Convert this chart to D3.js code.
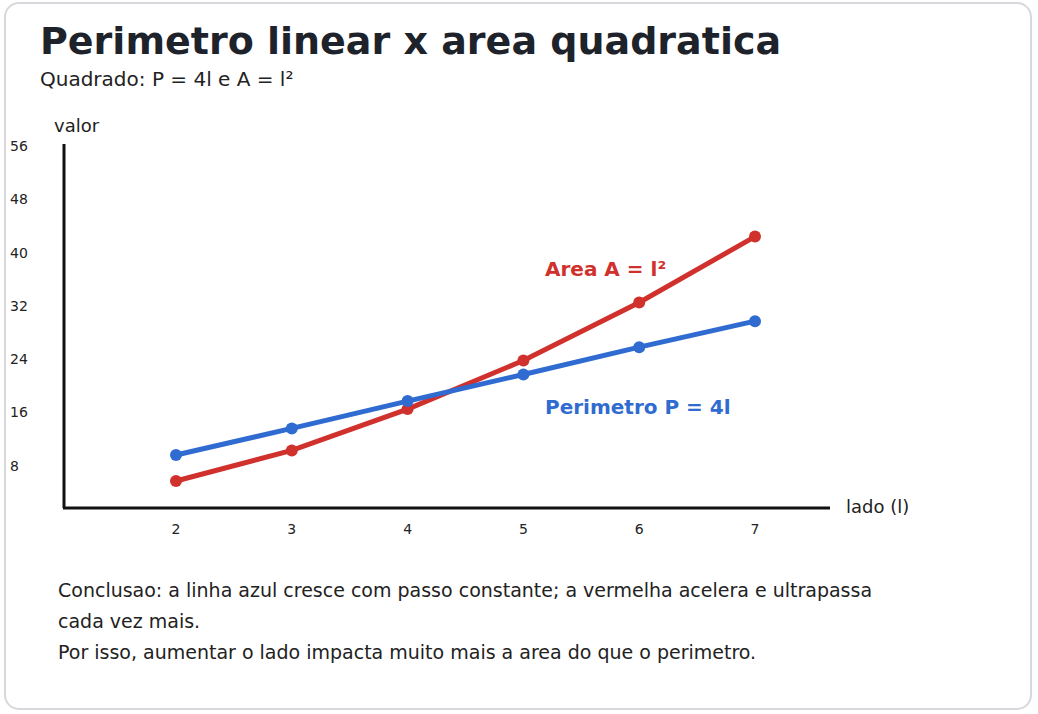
<!DOCTYPE html>
<html><head><meta charset="utf-8">
<script src="https://cdn.jsdelivr.net/npm/d3@7"></script>
<style>body{margin:0;background:#fff;font-family:"DejaVu Sans",sans-serif}</style>
</head><body>
<script>
var lados = [2, 3, 4, 5, 6, 7];
var perimetro = [9.6, 13.6, 17.7, 21.7, 25.8, 29.7];
var area = [5.7, 10.3, 16.5, 23.8, 32.5, 42.4];
var yTicks = [8, 16, 24, 32, 40, 48, 56];

var svg = d3.select("body").append("svg").attr("width", 1038).attr("height", 714);
svg.append("rect").attr("x", 5).attr("y", 3).attr("width", 1026).attr("height", 706)
	.attr("rx", 14).style("fill", "#fff").style("stroke", "#d8d8dc").style("stroke-width", 2);

svg.append("text").attr("x", 40).attr("y", 54).style("font-size", "38px").style("font-weight", "bold")
	.style("fill", "#1e232b").text("Perimetro linear x area quadratica");
svg.append("text").attr("x", 40).attr("y", 86).style("font-size", "20px").style("fill", "#222")
	.text("Quadrado: P = 4l e A = l²");

var x = d3.scaleLinear().domain([2, 7]).range([176, 755]);
var y = d3.scaleLinear().domain([0, 56]).range([519, 146]);

svg.append("line").attr("x1", 64).attr("x2", 64).attr("y1", 144).attr("y2", 508)
	.style("stroke", "#111").style("stroke-width", 3);
svg.append("line").attr("x1", 63).attr("x2", 830).attr("y1", 508).attr("y2", 508)
	.style("stroke", "#111").style("stroke-width", 3);
svg.append("text").attr("x", 54).attr("y", 132).style("font-size", "18px").style("fill", "#222").text("valor");
svg.append("text").attr("x", 846).attr("y", 513).style("font-size", "18px").style("fill", "#222").text("lado (l)");

svg.selectAll(".yt").data(yTicks).enter().append("text")
	.attr("x", 10).attr("y", function (d) { return y(d) + 5; })
	.style("font-size", "14px").style("fill", "#222").text(function (d) { return d; });
svg.selectAll(".xt").data(lados).enter().append("text")
	.attr("x", function (d) { return x(d); }).attr("y", 534).attr("text-anchor", "middle")
	.style("font-size", "14px").style("fill", "#222").text(function (d) { return d; });

function serie(vals, color) {
	var pts = lados.map(function (l, i) { return [l, vals[i]]; });
	svg.append("path").datum(pts)
		.attr("d", d3.line().x(function (d) { return x(d[0]); }).y(function (d) { return y(d[1]); }))
		.style("fill", "none").style("stroke", color).style("stroke-width", 5);
	svg.selectAll(null).data(pts).enter().append("circle")
		.attr("cx", function (d) { return x(d[0]); }).attr("cy", function (d) { return y(d[1]); })
		.attr("r", 6).style("fill", color);
}
serie(area, "#d0312d");
serie(perimetro, "#2f6bd0");

svg.append("text").attr("x", 545).attr("y", 276).style("font-size", "20px").style("font-weight", "bold")
	.style("fill", "#d0312d").text("Area A = l²");
svg.append("text").attr("x", 545).attr("y", 414).style("font-size", "20px").style("font-weight", "bold")
	.style("fill", "#2f6bd0").text("Perimetro P = 4l");

var notas = ["Conclusao: a linha azul cresce com passo constante; a vermelha acelera e ultrapassa",
	"cada vez mais.", "Por isso, aumentar o lado impacta muito mais a area do que o perimetro."];
svg.selectAll(".nt").data(notas).enter().append("text")
	.attr("x", 58).attr("y", function (d, i) { return 597 + i * 31; })
	.style("font-size", "19px").style("fill", "#222").text(function (d) { return d; });
</script>
</body></html>
